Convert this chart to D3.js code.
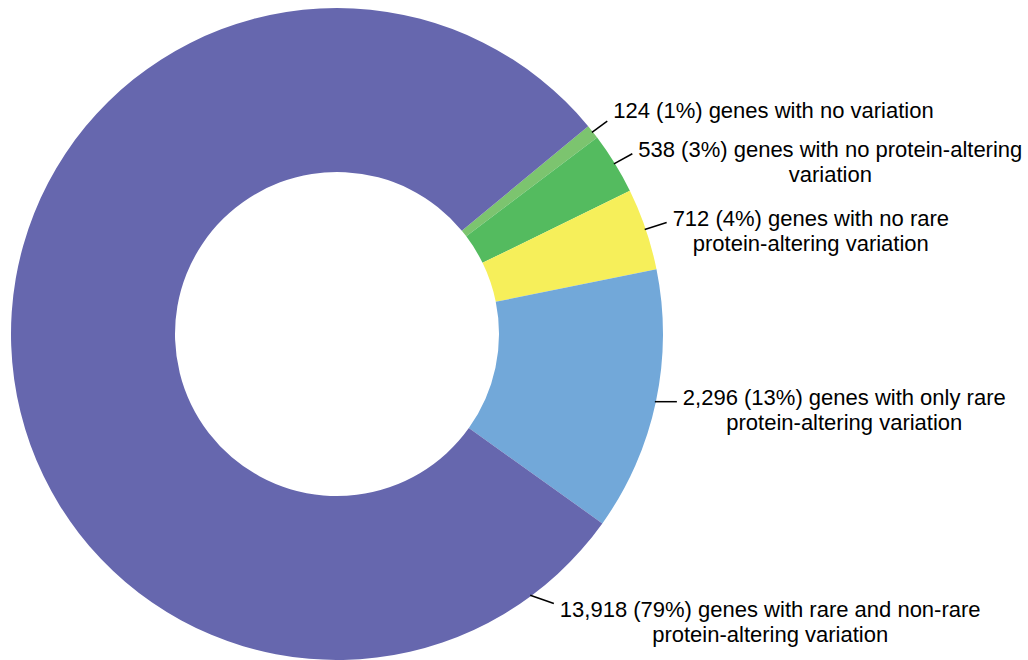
<!DOCTYPE html>
<html>
<head>
<meta charset="utf-8">
<script src="https://cdn.jsdelivr.net/npm/d3@7"></script>
<style>
  html, body { margin: 0; padding: 0; background: #ffffff; }
  svg { display: block; }
  text { font-family: "Liberation Sans", Arial, Helvetica, sans-serif; font-size: 22px; fill: #000; }
</style>
</head>
<body>
<svg id="chart" width="1028" height="660"></svg>
<script>
// Gene counts by variation class, in clockwise order
const counts = [124, 538, 712, 2296, 13918];
const percents = ["1%", "3%", "4%", "13%", "79%"];
const descriptions = [
  ["genes with no variation"],
  ["genes with no protein-altering", "variation"],
  ["genes with no rare", "protein-altering variation"],
  ["genes with only rare", "protein-altering variation"],
  ["genes with rare and non-rare", "protein-altering variation"]
];
const colors = ["#7cc46f", "#54bb5f", "#f6ef5a", "#72a8d9", "#6667ae"];

// Layout
const width = 1028, height = 660;
const cx = 337, cy = 334;
const outerR = 326, innerR = 162;
const deg = Math.PI / 180;
const startAngle = 50.4 * deg;
const lineHeight = 25;
// length and direction of each leader line (degrees clockwise from 12 o'clock)
const leaderLength = [19, 21, 23, 22, 25];
const leaderDir = [53.7, 61, 72.3, 90, 109];
// baseline of each label's first line relative to its leader end
const labelBaseline = [-3, 3, 4, 3, 14];

const svg = d3.select("#chart");
const g = svg.append("g").attr("transform", `translate(${cx},${cy})`);

const pie = d3.pie().sort(null).value(d => d)
  .startAngle(startAngle).endAngle(startAngle + 2 * Math.PI);
const arcs = pie(counts);

const arc = d3.arc().innerRadius(innerR).outerRadius(outerR);

g.selectAll("path.slice")
  .data(arcs)
  .join("path")
  .attr("class", "slice")
  .attr("d", arc)
  .attr("fill", (d, i) => colors[i]);

const polar = (a, r) => [r * Math.sin(a), -r * Math.cos(a)];

// Leader anchor on the rim: slice middle, except the large slice whose label sits low right
function anchorAngle(d, i) {
  if (i === counts.length - 1) return d.startAngle + 18 * deg;
  return (d.startAngle + d.endAngle) / 2;
}

const fmt = d3.format(",");

arcs.forEach((d, i) => {
  const p0 = polar(anchorAngle(d, i), outerR - 1);
  const dir = leaderDir[i] * deg;
  const len = leaderLength[i];
  const p1 = [p0[0] + len * Math.sin(dir), p0[1] - len * Math.cos(dir)];
  g.append("line")
    .attr("x1", p0[0]).attr("y1", p0[1])
    .attr("x2", p1[0]).attr("y2", p1[1])
    .attr("stroke", "#000")
    .attr("stroke-width", 1.5);

  const lines = descriptions[i].slice();
  lines[0] = `${fmt(counts[i])} (${percents[i]}) ${lines[0]}`;

  const x0 = p1[0] + 6;
  const baseY = p1[1] + labelBaseline[i];
  const label = g.append("text");
  const first = label.append("tspan").attr("x", x0).attr("y", baseY).text(lines[0]);
  const w = first.node().getComputedTextLength();
  const centerX = x0 + w / 2;
  first.attr("x", centerX).attr("text-anchor", "middle");
  lines.slice(1).forEach((t, k) => {
    label.append("tspan")
      .attr("x", centerX)
      .attr("y", baseY + (k + 1) * lineHeight)
      .attr("text-anchor", "middle")
      .text(t);
  });
});
</script>
</body>
</html>
